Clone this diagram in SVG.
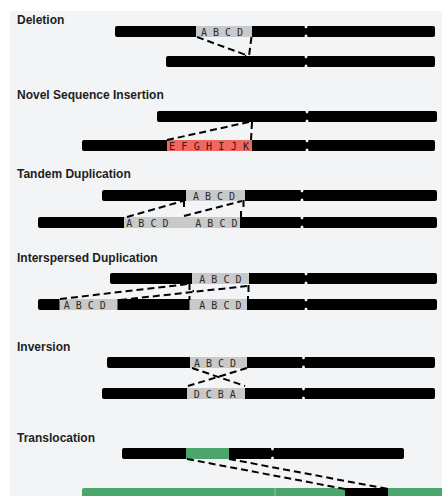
<svg xmlns="http://www.w3.org/2000/svg" width="442" height="496" viewBox="0 0 442 496">
  <style>
    .title { font: bold 12px "Liberation Sans", Arial, sans-serif; fill: #1e1e1e; }
    .seq { font: 10px "DejaVu Sans Mono", "Liberation Mono", monospace; fill: #2a2a2a; }
    .seq-red { font: 10px "DejaVu Sans Mono", "Liberation Mono", monospace; fill: #3a1414; letter-spacing: 0.15px; }
    .chr { fill: #000; }
    .grey { fill: #c9c9c9; }
    .red { fill: #ef6962; }
    .green { fill: #4ba66b; }
    .notch { fill: #f3f4f6; }
    .link { fill: none; stroke: #000; stroke-width: 2; stroke-dasharray: 7 4; }
  </style>
  <defs>
    <!-- centromere pinch: small cut-outs on the top and bottom edge of a bar of height 11 -->
    <g id="centromere">
      <ellipse class="notch" cx="0" cy="0" rx="1.5" ry="2.4"/>
      <ellipse class="notch" cx="0" cy="11" rx="1.5" ry="2.4"/>
    </g>
  </defs>

  <rect x="10" y="11" width="440" height="490" fill="#f3f4f6"/>

  <!-- Deletion -->
  <g id="deletion">
    <text class="title" x="17" y="24">Deletion</text>
    <g id="deletion-ref">
      <rect class="chr" x="115" y="26" width="320" height="11" rx="2"/>
      <rect class="grey" x="196" y="26" width="56" height="11"/>
      <text class="seq" x="201" y="35.5">A B C D</text>
      <use href="#centromere" x="306" y="26"/>
    </g>
    <g id="deletion-alt">
      <rect class="chr" x="166" y="56" width="269" height="11" rx="2"/>
      <use href="#centromere" x="306" y="56"/>
    </g>
  </g>

  <!-- Novel Sequence Insertion -->
  <g id="insertion">
    <text class="title" x="17" y="98.5">Novel Sequence Insertion</text>
    <g id="insertion-ref">
      <rect class="chr" x="157" y="111" width="280" height="11" rx="2"/>
      <use href="#centromere" x="307" y="111"/>
    </g>
    <g id="insertion-alt">
      <rect class="chr" x="82" y="140" width="353" height="11" rx="2"/>
      <rect class="red" x="167" y="140" width="85" height="11"/>
      <text class="seq-red" x="169" y="149.5">E F G H I J K</text>
      <use href="#centromere" x="307" y="140"/>
    </g>
  </g>

  <!-- Tandem Duplication -->
  <g id="tandem">
    <text class="title" x="17" y="178">Tandem Duplication</text>
    <g id="tandem-ref">
      <rect class="chr" x="102" y="190" width="335" height="11" rx="2"/>
      <rect class="grey" x="186" y="190" width="59" height="11"/>
      <text class="seq" x="193" y="199.5">A B C D</text>
      <use href="#centromere" x="302" y="190"/>
    </g>
    <g id="tandem-alt">
      <rect class="chr" x="38" y="217" width="399" height="11" rx="2"/>
      <rect class="grey" x="124" y="217" width="116" height="11"/>
      <text class="seq" x="126.3" y="226.5">A B C D</text>
      <text class="seq" x="195.3" y="226.5">A B C D</text>
      <use href="#centromere" x="302" y="217"/>
    </g>
  </g>

  <!-- Interspersed Duplication -->
  <g id="interspersed">
    <text class="title" x="17" y="261.5">Interspersed Duplication</text>
    <g id="interspersed-ref">
      <rect class="chr" x="110" y="273" width="327" height="11" rx="2"/>
      <rect class="grey" x="192" y="273" width="57" height="11"/>
      <text class="seq" x="199.3" y="282.5">A B C D</text>
      <use href="#centromere" x="306" y="273"/>
    </g>
    <g id="interspersed-alt">
      <rect class="chr" x="38" y="299" width="399" height="11" rx="2"/>
      <rect class="grey" x="59.5" y="299" width="58" height="11"/>
      <rect class="grey" x="189.5" y="299" width="57.5" height="11"/>
      <text class="seq" x="63.7" y="308.5">A B C D</text>
      <text class="seq" x="199.3" y="308.5">A B C D</text>
      <use href="#centromere" x="306" y="299"/>
    </g>
  </g>

  <!-- Inversion -->
  <g id="inversion">
    <text class="title" x="17" y="350.5">Inversion</text>
    <g id="inversion-ref">
      <rect class="chr" x="107" y="357" width="328" height="11" rx="2"/>
      <rect class="grey" x="190" y="357" width="57" height="11"/>
      <text class="seq" x="194" y="366.5">A B C D</text>
      <use href="#centromere" x="303.5" y="357"/>
    </g>
    <g id="inversion-alt">
      <rect class="chr" x="102" y="388" width="333" height="11" rx="2"/>
      <rect class="grey" x="187" y="388" width="58" height="11"/>
      <text class="seq" x="193.7" y="397.5">D C B A</text>
      <use href="#centromere" x="303.5" y="388"/>
    </g>
  </g>

  <!-- Translocation -->
  <g id="translocation">
    <text class="title" x="17" y="441.5">Translocation</text>
    <g id="translocation-ref">
      <rect class="chr" x="122" y="448" width="282" height="11" rx="2"/>
      <rect class="green" x="186" y="448" width="43" height="11"/>
      <use href="#centromere" x="272.5" y="448"/>
    </g>
    <g id="translocation-alt">
      <rect class="green" x="82" y="488" width="380" height="11" rx="2"/>
      <rect class="chr" x="345" y="488" width="43" height="11"/>
      <line x1="275" y1="488" x2="275" y2="496" stroke="#8fcaa3" stroke-width="1"/>
    </g>
  </g>

  <!-- dashed breakpoint connectors -->
  <g id="connectors">
    <path class="link" d="M197 37 L246 55"/>
    <path class="link" d="M251.5 37 L249 56 L245 56"/>

    <path class="link" d="M167 140 L249 122"/>
    <path class="link" d="M252 122 L251 140"/>

    <path class="link" d="M127 217 L183 201"/>
    <path class="link" d="M184 200 V207"/>
    <path class="link" d="M184 216 L242 201"/>
    <path class="link" d="M243.5 200 V207"/>
    <path class="link" d="M241 211 V217"/>

    <path class="link" d="M60 299 L188 284"/>
    <path class="link" d="M189.5 283 V291 H194"/>
    <path class="link" d="M120 300 L247 286"/>
    <path class="link" d="M248.5 285 V292"/>
    <path class="link" d="M189.5 296 V300"/>
    <path class="link" d="M248 296 V300"/>

    <path class="link" d="M192 368 L245 386"/>
    <path class="link" d="M247 368 L188 386"/>

    <path class="link" d="M187 459 L345 489"/>
    <path class="link" d="M229 459 L388 489"/>
  </g>
</svg>
